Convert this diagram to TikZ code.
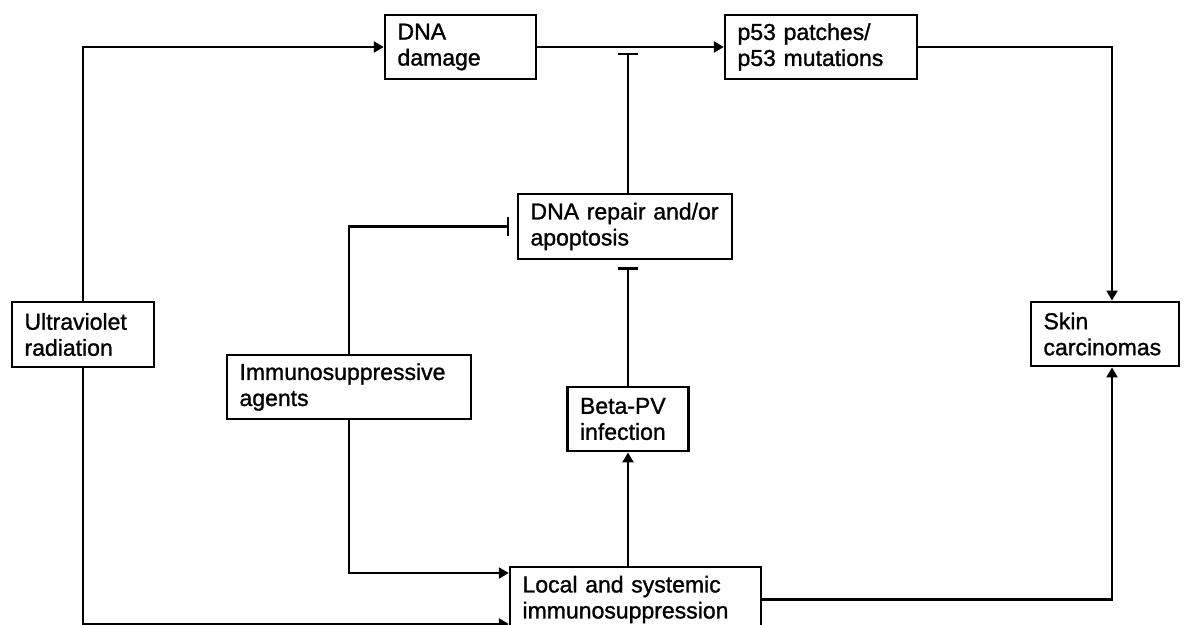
\documentclass[tikz,border=0pt]{standalone}
\usepackage{fontspec}
\setmainfont{Liberation Sans}
\newfontfamily\boxfam{Liberation Sans}[FakeBold=1.2]
\usetikzlibrary{calc,arrows.meta}
\newcommand{\boxfont}{\boxfam\fontsize{13.1}{14.8}\selectfont}

\begin{document}
\begin{tikzpicture}[x=0.02cm,y=-0.02cm]
\tikzstyle{box} = [draw, line width=1.4pt, align=left, inner xsep=0.25cm,
            minimum height=1.29cm, font=\boxfont];
\tikzstyle{arr} = [line width=1.3pt, -{Triangle[length=0.2cm,width=0.22cm]}];
\tikzstyle{inh} = [line width=1.3pt, -{Bar[width=0.4cm]}, shorten >=0.15cm];

    \useasboundingbox (0,0) rectangle (1186,625);

    % top row
    \node (dmg) at (460.5,47) [box, text width=2.52cm] {DNA\\damage};
    \node (p53) at (821,47) [box, text width=3.34cm] {p53 patches/\\p53 mutations};

    % middle
    \node (repair) at (625,226.5) [box, text width=3.78cm] {DNA repair and/or\\apoptosis};
    \node (uv) at (83,334.5) [box, text width=2.34cm] {Ultraviolet\\radiation};
    \node (skin) at (1105,334) [box, text width=2.46cm] {Skin\\carcinomas};
    \node (immuno) at (349,387) [box, text width=4.38cm] {Immunosuppressive\\agents};
    \node (beta) at (628,419) [box, text width=1.92cm] {Beta-PV\\infection};

    % bottom
    \node (local) at (635.5,599.5) [box, text width=4.52cm] {Local and systemic\\immunosuppression};

    \coordinate (skcol) at (1112,0);
    \coordinate (hit) at (beta.north |- dmg.east);

    \draw[arr] (uv.north) |- (dmg.west);
    \draw[arr] (dmg.east) -- (p53.west);
    \draw[arr] (p53.east) -| (skcol |- skin.north);
    \draw[arr] (local.east) -| (skcol |- skin.south);
    \draw[arr] (uv.south) |- ($(local.south west)+(0,-9)$);
    \draw[arr] (immuno.south) |- ($(local.north west)+(0,7)$);
    \draw[arr] (local.north -| beta.south) -- (beta.south);

    \draw[inh] (beta.north) -- (beta.north |- repair.south);
    \draw[inh] (immuno.north) |- (repair.west);
    \draw[inh, shorten >=0.12cm] (hit |- repair.north) -- (hit);

\end{tikzpicture}
\end{document}
